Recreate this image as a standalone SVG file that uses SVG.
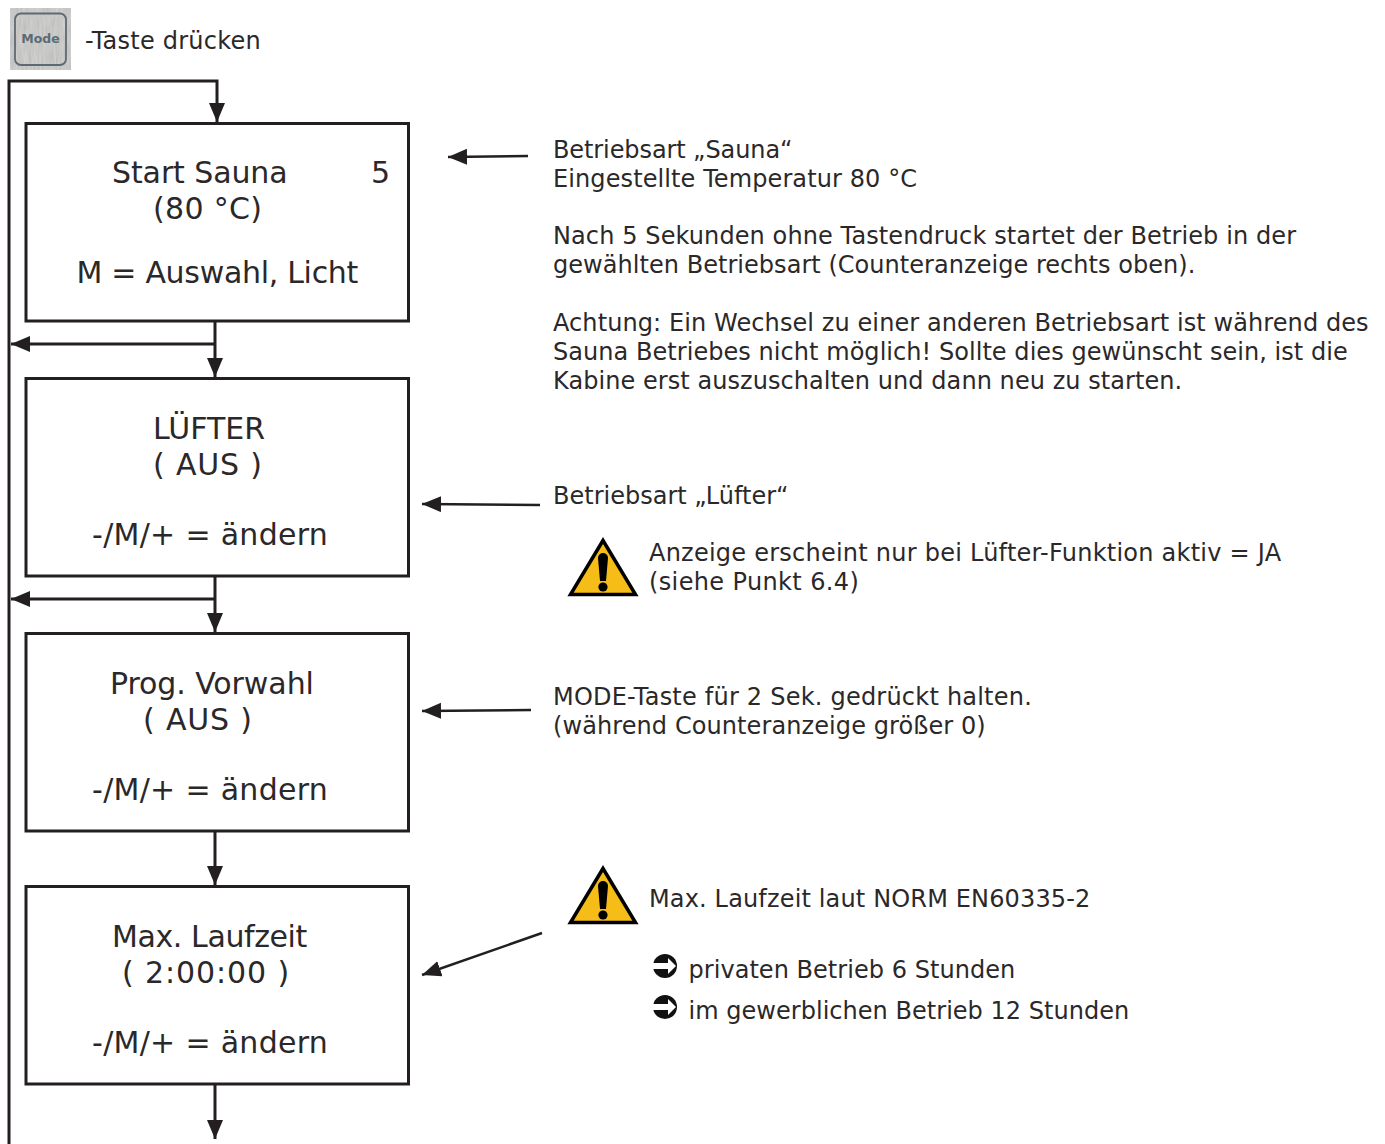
<svg xmlns="http://www.w3.org/2000/svg" width="1385" height="1144" viewBox="0 0 1385 1144">
<style>
text{font-family:"DejaVu Sans","Liberation Sans",sans-serif;fill:#2b2829}
.n{font-size:30px}
.t{font-size:24px}
.b{fill:#fff;stroke:#231f20;stroke-width:3}
.c{fill:none;stroke:#231f20;stroke-width:3}
.a{fill:none;stroke:#231f20;stroke-width:2.500}
</style>
<defs>
<marker id="h" markerUnits="userSpaceOnUse" markerWidth="22" markerHeight="18" refX="19" refY="8" orient="auto"><path d="M0 0L19 8L0 16Z" fill="#231f20"/></marker>
<filter id="brush" x="0" y="0" width="1" height="1"><feTurbulence type="fractalNoise" baseFrequency="0.5 0.06" numOctaves="2" seed="3"/><feColorMatrix values="0 0 0 0 0.45 0 0 0 0 0.45 0 0 0 0 0.45 1.200 0 0 0 -0.35"/><feComposite in2="SourceGraphic" operator="in"/><feMerge><feMergeNode in="SourceGraphic"/><feMergeNode/></feMerge></filter>
<g id="warn"><path d="M603 540.500L635.500 594.500H570.500Z" fill="#f6bc17" stroke="#000" stroke-width="3.500"/><path d="M598 558a5 5 0 0 1 10 0L606 581h-6Z" fill="#000"/><circle cx="603" cy="587" r="4.600" fill="#000"/></g>
<g id="pt"><circle cx="665" cy="0" r="12" fill="#111"/><path d="M653 -3H668V-8L676 0L668 8V3H653Z" fill="#fff"/></g>
</defs>
<g id="mode-key">
<rect x="10" y="8" width="61" height="62" fill="#cfcfcd" filter="url(#brush)"/>
<rect x="15" y="13.500" width="51" height="51.500" rx="6" fill="none" stroke="#5c6b73" stroke-width="1.800"/>
<text x="40.500" y="43" font-size="12.500" font-weight="bold" text-anchor="middle" style="fill:#5c6b73">Mode</text>
</g>
<text class="t" x="85" y="49" letter-spacing=".23">-Taste drücken</text>
<g id="connectors">
<path class="c" d="M9 1144V81H217V122" marker-end="url(#h)"/>
<path class="c" d="M215 321V377" marker-end="url(#h)"/>
<path class="c" d="M215 344H11" marker-end="url(#h)"/>
<path class="c" d="M215 576V632" marker-end="url(#h)"/>
<path class="c" d="M215 599H11" marker-end="url(#h)"/>
<path class="c" d="M215 831V885" marker-end="url(#h)"/>
<path class="c" d="M215 1084V1139" marker-end="url(#h)"/>
<path class="a" d="M528 156L448 157" marker-end="url(#h)"/>
<path class="a" d="M540 505L422 504" marker-end="url(#h)"/>
<path class="a" d="M531 710L422 711" marker-end="url(#h)"/>
<path class="a" d="M542 933L422 975" marker-end="url(#h)"/>
</g>
<g id="node-sauna"><rect class="b" x="26" y="123.500" width="382.500" height="197.500"/>
<text class="n" x="112" y="183" letter-spacing="-.1">Start Sauna</text><text class="n" x="371" y="183">5</text><text class="n" x="153" y="219" letter-spacing=".33">(80 °C)</text><text class="n" x="76.500" y="283" letter-spacing="-.3">M = Auswahl, Licht</text></g>
<g id="node-luefter"><rect class="b" x="26" y="378.500" width="382.500" height="197.500"/>
<text class="n" x="153" y="439">LÜFTER</text><text class="n" x="153" y="475" letter-spacing=".83">( AUS )</text><text class="n" x="92" y="545" letter-spacing=".3">-/M/+ = ändern</text></g>
<g id="node-prog"><rect class="b" x="26" y="633.500" width="382.500" height="197.500"/>
<text class="n" x="110" y="694" letter-spacing="-.08">Prog. Vorwahl</text><text class="n" x="143" y="730" letter-spacing=".83">( AUS )</text><text class="n" x="92" y="800" letter-spacing=".3">-/M/+ = ändern</text></g>
<g id="node-laufzeit"><rect class="b" x="26" y="886.500" width="382.500" height="197.500"/>
<text class="n" x="112" y="947" letter-spacing="-.4">Max. Laufzeit</text><text class="n" x="122" y="983" letter-spacing=".9">( 2:00:00 )</text><text class="n" x="92" y="1053" letter-spacing=".3">-/M/+ = ändern</text></g>
<g id="notes">
<text class="t" x="553" y="158" letter-spacing="-.1">Betriebsart „Sauna“</text>
<text class="t" x="553" y="187" letter-spacing=".1">Eingestellte Temperatur 80 °C</text>
<text class="t" x="553" y="244" letter-spacing=".1">Nach 5 Sekunden ohne Tastendruck startet der Betrieb in der</text>
<text class="t" x="553" y="273" letter-spacing=".04">gewählten Betriebsart (Counteranzeige rechts oben).</text>
<text class="t" x="553" y="331" letter-spacing=".09">Achtung: Ein Wechsel zu einer anderen Betriebsart ist während des</text>
<text class="t" x="553" y="360" letter-spacing=".05">Sauna Betriebes nicht möglich! Sollte dies gewünscht sein, ist die</text>
<text class="t" x="553" y="389" letter-spacing=".06">Kabine erst auszuschalten und dann neu zu starten.</text>
<text class="t" x="553" y="504">Betriebsart „Lüfter“</text>
<use href="#warn"/>
<text class="t" x="649" y="561" letter-spacing=".24">Anzeige erscheint nur bei Lüfter-Funktion aktiv = JA</text>
<text class="t" x="649" y="590" letter-spacing=".37">(siehe Punkt 6.4)</text>
<text class="t" x="553" y="705" letter-spacing=".22">MODE-Taste für 2 Sek. gedrückt halten.</text>
<text class="t" x="553" y="734" letter-spacing=".09">(während Counteranzeige größer 0)</text>
<use href="#warn" y="328"/>
<text class="t" x="649" y="907" letter-spacing=".15">Max. Laufzeit laut NORM EN60335-2</text>
<use href="#pt" y="966"/>
<text class="t" x="688.500" y="978" letter-spacing=".04">privaten Betrieb 6 Stunden</text>
<use href="#pt" y="1007"/>
<text class="t" x="688.500" y="1019" letter-spacing=".03">im gewerblichen Betrieb 12 Stunden</text>
</g>
</svg>
